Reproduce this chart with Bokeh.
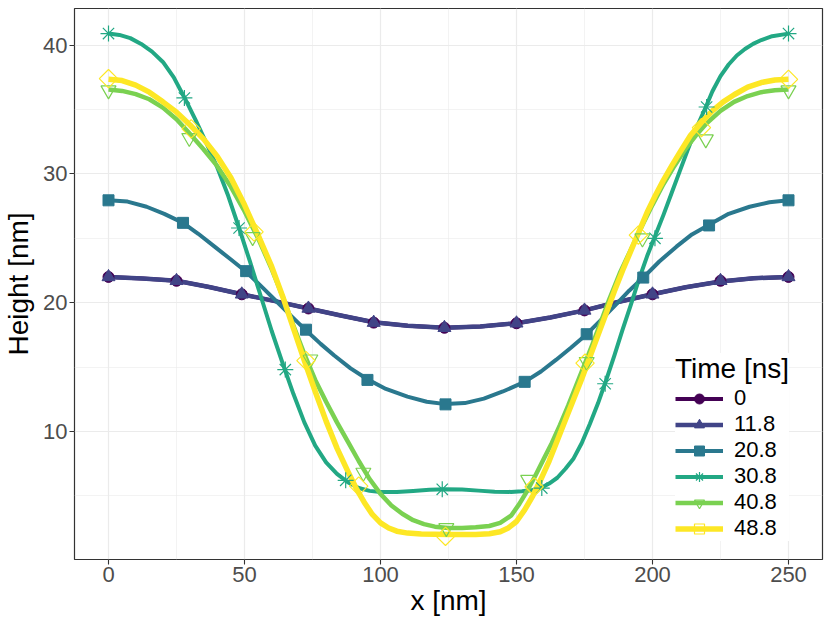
import math
from bokeh.plotting import figure
from bokeh.models import Legend, LegendItem, FixedTicker, Range1d
from bokeh.embed import file_html
from bokeh.resources import INLINE

times = ["0", "11.8", "20.8", "30.8", "40.8", "48.8"]
colors = ["#440154", "#414487", "#2A788E", "#22A884", "#7AD151", "#FDE725"]

x_ticks = [0, 50, 100, 150, 200, 250]
x_minor = [25, 75, 125, 175, 225]
y_ticks = [10, 20, 30, 40]
y_minor = [5, 15, 25, 35]

# ---- smooth line profiles ----
t0_line_x = [0, 12.5, 25, 37, 49, 61.2, 73.5, 85.4, 97.5, 110, 123.5, 136.7, 150, 162.4, 175, 187.3, 200, 212.2, 225, 237.2, 250]
t0_line_y = [22.0, 21.88, 21.7, 21.22, 20.65, 20.12, 19.55, 19.0, 18.48, 18.2, 18.05, 18.15, 18.4, 18.85, 19.4, 20.05, 20.65, 21.2, 21.65, 21.9, 22.0]

t118_line_x = [0, 12.5, 25, 37, 49, 61.2, 73.5, 85.4, 97.5, 110, 123.5, 136.7, 150, 162.4, 175, 187.3, 200, 212.2, 225, 237.2, 250]
t118_line_y = [22.0, 21.88, 21.7, 21.22, 20.65, 20.12, 19.55, 19.0, 18.48, 18.2, 18.05, 18.15, 18.4, 18.85, 19.4, 20.05, 20.65, 21.2, 21.65, 21.9, 22.0]

t208_line_x = [0, 7, 14, 20.5, 27.4, 33, 39, 45, 50.6, 56, 62, 67.5, 72.6, 78, 83, 89, 95.2, 102, 109.9, 117, 123.9,
               131, 138, 145, 153, 159, 164.5, 170, 175.8, 181, 186.8, 191.5, 196.6, 202.5, 208.8, 214.5, 220.8, 228, 235.7, 243, 250]
t208_line_y = [27.95, 27.85, 27.45, 26.9, 26.2, 25.35, 24.35, 23.35, 22.4, 21.3, 20.05, 18.9, 17.85, 16.8, 15.9, 14.9, 14.05, 13.3, 12.7, 12.3, 12.12,
               12.2, 12.55, 13.1, 13.85, 14.65, 15.55, 16.5, 17.55, 18.65, 19.9, 20.95, 21.95, 23.2, 24.35, 25.3, 26.05, 26.9, 27.45, 27.8, 27.95]

t308_line_x = [0, 4, 8, 12, 16, 20, 24, 28, 32, 36, 40, 44, 48, 52, 56, 60, 64, 68, 72, 76, 80, 84, 88, 92, 96, 100, 106, 112, 118, 124,
               130, 136, 142, 148, 152, 156, 159.3, 162, 165, 168, 171, 174, 177, 180, 183, 186, 189, 192, 195, 198, 201, 204, 207, 210,
               213, 216, 219.6, 222, 225, 228, 231, 234, 237, 240, 244, 250]
t308_line_y = [40.9, 40.8, 40.55, 40.1, 39.5, 38.7, 37.5, 35.9, 34.2, 32.4, 30.5, 28.3, 25.8, 23.2, 20.5, 17.8, 15.3, 12.9, 10.7, 8.9, 7.6, 6.7, 6.05, 5.6, 5.38, 5.3, 5.3, 5.38, 5.46, 5.5,
               5.48, 5.4, 5.32, 5.3, 5.35, 5.45, 5.65, 5.95, 6.4, 7.1, 7.9, 9.1, 10.6, 12.2, 14.0, 15.9, 17.9, 19.8, 21.8, 23.6, 25.2, 26.8, 28.5, 30.2,
               31.9, 33.5, 35.2, 36.4, 37.6, 38.5, 39.2, 39.7, 40.1, 40.4, 40.7, 40.9]

t408_line_x = [0, 5, 10, 15, 20, 25, 30, 35, 40, 45, 50, 55, 60, 64, 68, 72, 76, 80, 84, 88, 92, 96, 100, 104, 108, 112, 116, 120, 125,
               130, 135, 140, 144, 148, 151, 154, 157, 160, 163, 166, 169, 172, 175, 178, 181, 184, 188, 192, 196, 200, 204, 208,
               212, 216, 220, 225, 230, 235, 240, 245, 250]
t408_line_y = [36.55, 36.45, 36.2, 35.8, 35.15, 34.25, 33.1, 31.9, 30.6, 29.0, 27.1, 25.0, 22.6, 20.5, 18.2, 16.0, 14.0, 12.3, 10.7, 9.2, 7.7, 6.3, 5.15, 4.25, 3.6, 3.1, 2.8, 2.6, 2.5,
               2.5, 2.55, 2.65, 2.9, 3.45, 4.35, 5.4, 6.6, 7.85, 9.1, 10.5, 12.0, 13.6, 15.2, 16.8, 18.5, 20.2, 22.3, 24.1, 25.9, 27.6, 29.2, 30.6,
               31.9, 33.0, 33.95, 34.9, 35.6, 36.05, 36.35, 36.5, 36.55]

t488_line_x = [0, 5, 10, 15, 20, 25, 30, 35, 40, 45, 50, 55, 60, 64, 68, 72, 76, 80, 84, 88, 91, 94, 97, 100, 103, 106, 110, 115, 125,
               135, 140, 144, 147, 150, 153, 156, 159, 162, 165, 168, 171, 174, 177, 180, 183, 186, 189, 192, 195, 198, 201, 204,
               207, 210, 214, 218, 222, 226, 230, 235, 240, 245, 250]
t488_line_y = [37.35, 37.25, 36.9, 36.35, 35.6, 34.8, 33.8, 32.7, 31.35, 29.7, 27.6, 25.25, 22.8, 20.5, 18.0, 15.5, 13.1, 10.8, 8.7, 6.9, 5.6, 4.5, 3.55, 2.9, 2.5, 2.25, 2.1, 2.03, 2.0,
               2.0, 2.05, 2.2, 2.5, 3.0, 3.9, 5.0, 6.3, 7.7, 9.3, 10.9, 12.5, 14.1, 15.8, 17.5, 19.2, 20.9, 22.5, 24.0, 25.5, 27.0, 28.3, 29.5,
               30.6, 31.65, 33.0, 34.0, 34.9, 35.6, 36.15, 36.75, 37.1, 37.3, 37.35]

# ---- marker points ----
t0_pts_x = [0, 25, 49, 73.5, 97.5, 123.5, 150, 175, 200, 225, 250]
t0_pts_y = [22.0, 21.7, 20.65, 19.55, 18.45, 18.05, 18.4, 19.4, 20.65, 21.7, 22.0]

t118_pts_x = [0, 25, 49, 73.5, 97.5, 123.5, 150, 175, 200, 225, 250]
t118_pts_y = [22.0, 21.7, 20.65, 19.55, 18.45, 18.05, 18.4, 19.4, 20.65, 21.7, 22.0]

t208_pts_x = [0, 27.4, 50.6, 72.6, 95.2, 123.9, 153, 175.8, 196.6, 220.8, 250]
t208_pts_y = [27.95, 26.2, 22.45, 17.9, 14.0, 12.1, 13.85, 17.55, 21.95, 26.0, 27.95]

t308_pts_x = [0, 27.9, 48, 65, 87.2, 122.7, 159.3, 182.6, 200.9, 219.9, 250]
t308_pts_y = [40.9, 35.9, 25.8, 14.8, 6.2, 5.5, 5.6, 13.7, 25.0, 35.2, 40.9]

t408_pts_x = [0, 29.7, 53, 74.2, 93.7, 124.2, 154.3, 175.8, 196.3, 219.6, 250]
t408_pts_y = [36.5, 32.8, 25.1, 15.6, 6.8, 2.5, 6.25, 15.4, 25.0, 32.7, 36.5]

t488_pts_x = [0, 30.4, 53.5, 72.6, 92, 123.9, 156.5, 175.2, 194.8, 218, 250]
t488_pts_y = [37.4, 33.5, 25.5, 15.5, 5.75, 1.85, 5.7, 15.3, 25.25, 33.6, 37.35]

lines = [(t0_line_x, t0_line_y), (t118_line_x, t118_line_y), (t208_line_x, t208_line_y),
         (t308_line_x, t308_line_y), (t408_line_x, t408_line_y), (t488_line_x, t488_line_y)]
points = [(t0_pts_x, t0_pts_y), (t118_pts_x, t118_pts_y), (t208_pts_x, t208_pts_y),
          (t308_pts_x, t308_pts_y), (t408_pts_x, t408_pts_y), (t488_pts_x, t488_pts_y)]

line_widths = [4, 4.5, 4, 4, 4.5, 5.5]
marker_specs = [
    dict(marker="circle", size=11, filled=True, angle=0.0),
    dict(marker="triangle", size=13, filled=True, angle=0.0),
    dict(marker="square", size=11, filled=True, angle=0.0),
    dict(marker="asterisk", size=16, filled=False, angle=0.0),
    dict(marker="inverted_triangle", size=15, filled=False, angle=0.0),
    dict(marker="square", size=13, filled=False, angle=math.pi / 4),
]

FONT = "Liberation Sans"

p = figure(width=830, height=623, output_backend="svg", toolbar_location=None,
           x_range=Range1d(-12.5, 262.5), y_range=Range1d(0.05, 42.85),
           min_border_left=73, min_border_right=8, min_border_top=8, min_border_bottom=64)

p.background_fill_color = "white"
p.border_fill_color = "white"
p.outline_line_color = "#333333"
p.outline_line_width = 1.2

p.xaxis.ticker = FixedTicker(ticks=x_ticks, minor_ticks=x_minor)
p.yaxis.ticker = FixedTicker(ticks=y_ticks, minor_ticks=y_minor)
p.xaxis.axis_label = "x [nm]"
p.yaxis.axis_label = "Height [nm]"

for ax in (p.xaxis, p.yaxis):
    ax.axis_line_color = None
    ax.major_tick_line_color = "#333333"
    ax.major_tick_line_width = 1.1
    ax.major_tick_out = 5
    ax.major_tick_in = 0
    ax.minor_tick_line_color = None
    ax.major_label_text_font = FONT
    ax.major_label_text_font_size = "22px"
    ax.major_label_text_color = "#4D4D4D"
    ax.major_label_standoff = 2
    ax.axis_label_text_font = FONT
    ax.axis_label_text_font_size = "28px"
    ax.axis_label_text_font_style = "normal"
    ax.axis_label_text_color = "black"
p.xaxis.axis_label_standoff = 0
p.yaxis.axis_label_standoff = 6

for g in (p.xgrid, p.ygrid):
    g.grid_line_color = "#EBEBEB"
    g.grid_line_width = 1.2
    g.minor_grid_line_color = "#EBEBEB"
    g.minor_grid_line_width = 0.6

line_renderers = []
for (lx, ly), c, w in zip(lines, colors, line_widths):
    r = p.line(lx, ly, line_color=c, line_width=w, line_join="round")
    line_renderers.append(r)

point_renderers = []
for (px, py), c, spec in zip(points, colors, marker_specs):
    if spec["filled"]:
        r = p.scatter(px, py, marker=spec["marker"], size=spec["size"], angle=spec["angle"],
                      fill_color=c, line_color=c, line_width=1)
    else:
        r = p.scatter(px, py, marker=spec["marker"], size=spec["size"], angle=spec["angle"],
                      fill_color=None, line_color=c, line_width=1.2)
    point_renderers.append(r)

items = [LegendItem(label=t, renderers=[lr, pr]) for t, lr, pr in zip(times, line_renderers, point_renderers)]
legend = Legend(items=items, location=(601, 18), title="Time [ns]",
                title_text_font=FONT, title_text_font_size="28px", title_text_font_style="normal",
                title_text_color="black", title_standoff=0,
                label_text_font=FONT, label_text_font_size="22px", label_text_color="black",
                glyph_width=48, glyph_height=25, label_height=24, label_standoff=11,
                spacing=0, padding=6, margin=0,
                background_fill_color="white", background_fill_alpha=1.0,
                border_line_color=None)
p.add_layout(legend, "center")

open("out.html", "w").write(file_html(p, INLINE))
